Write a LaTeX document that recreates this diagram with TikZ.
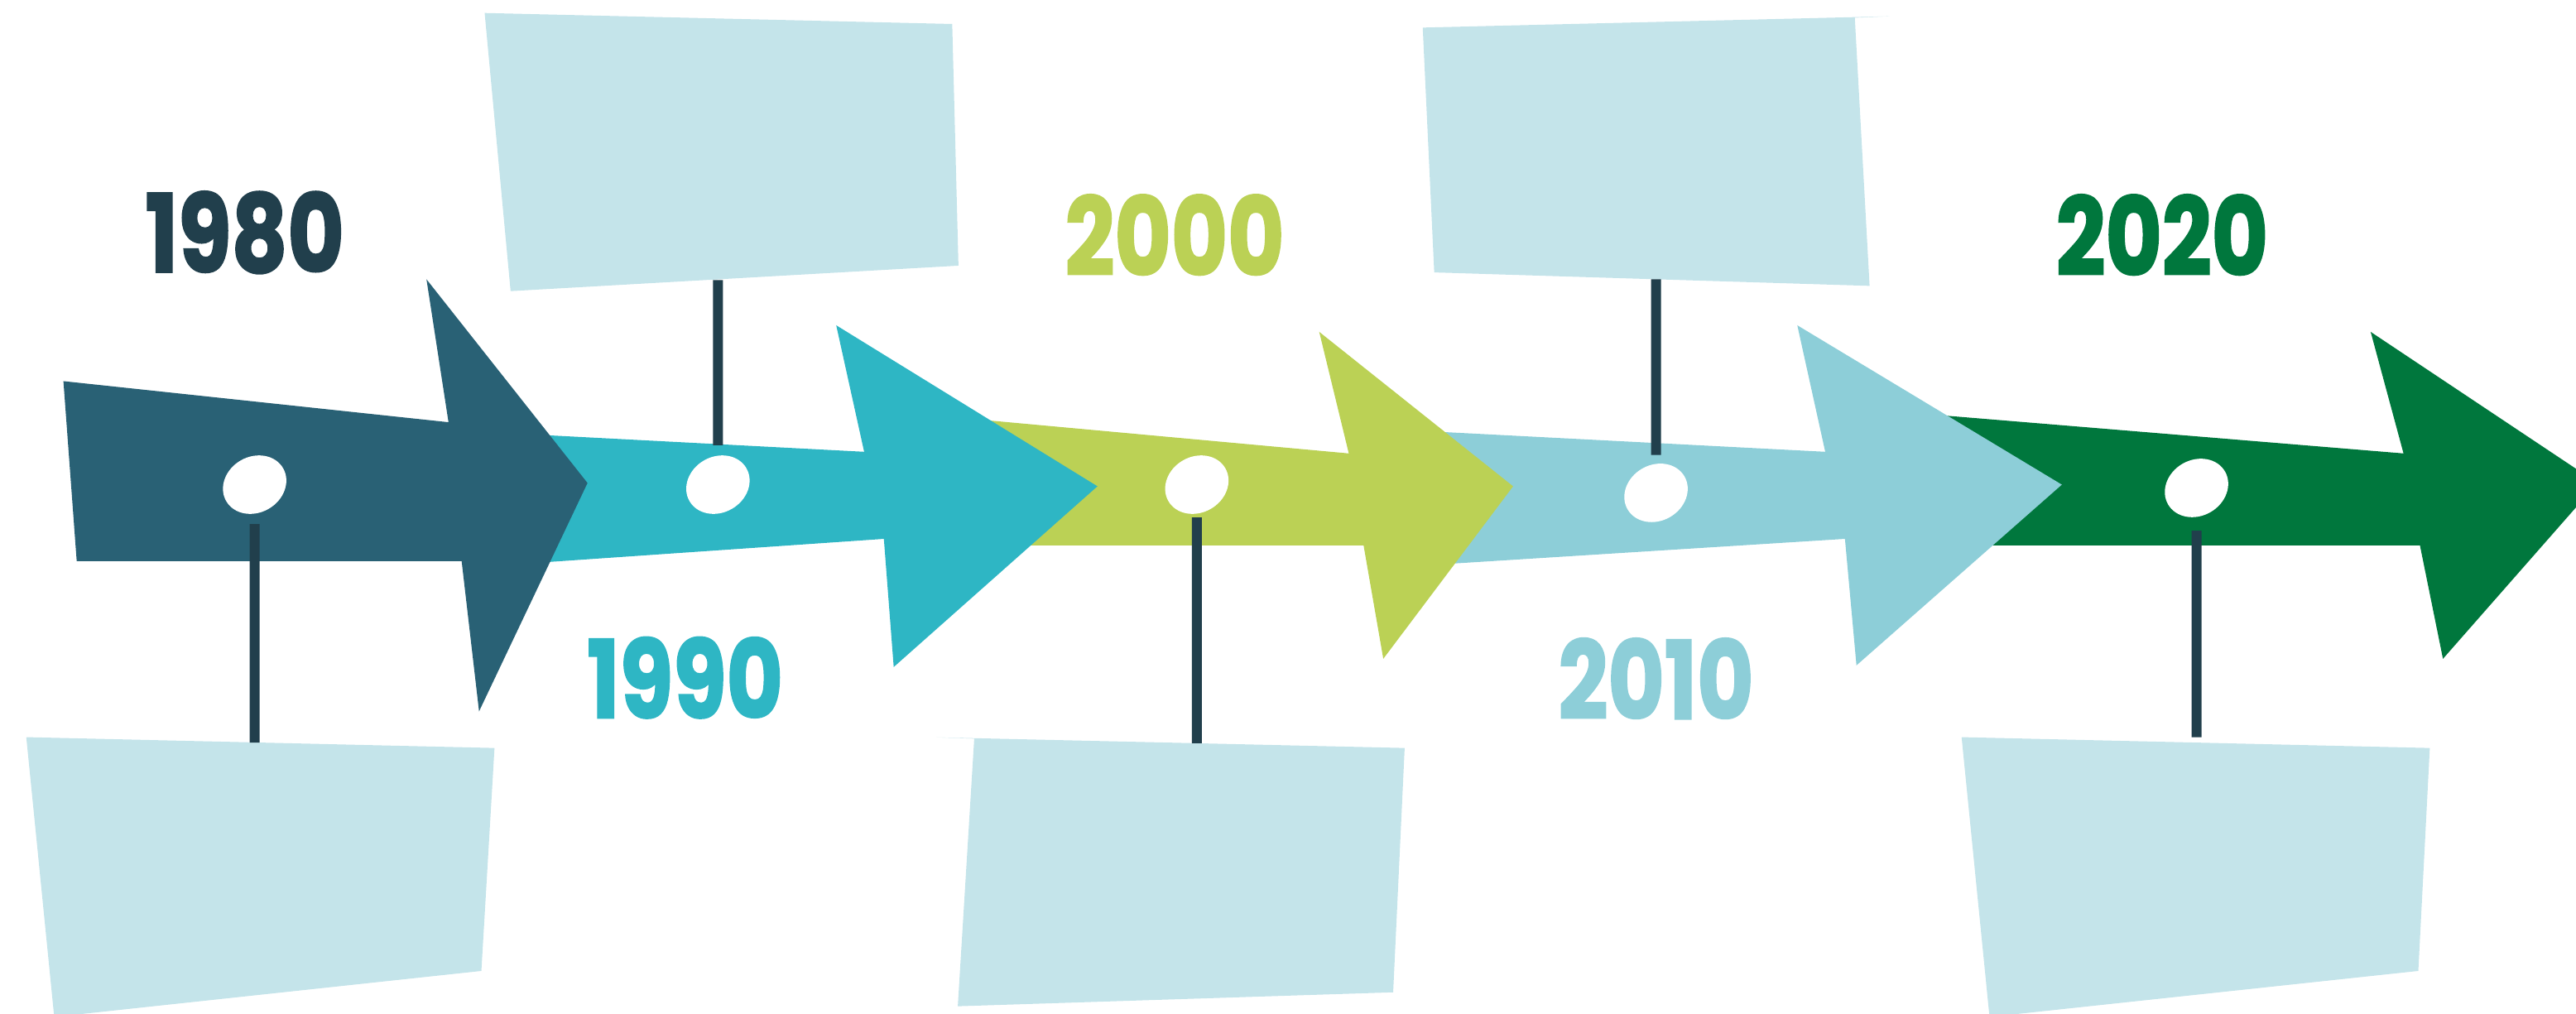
\documentclass[tikz,border=0pt]{standalone}
\usepackage{fontspec}
\newfontfamily\yearfont{Poppins}[FakeStretch=0.8,BoldFeatures={FakeBold=1.6}]
\usetikzlibrary{shapes.geometric}
\definecolor{ink}{HTML}{213F4C}
\definecolor{petrolC}{HTML}{296175}
\definecolor{cyanC}{HTML}{2EB6C4}
\definecolor{limeC}{HTML}{BBD155}
\definecolor{skyC}{HTML}{8DCED8}
\definecolor{forestC}{HTML}{00773D}
\definecolor{paleC}{HTML}{C4E4EA}
\tikzset{
  card/.style={fill=paleC},
  dot/.style={ellipse,fill=white,inner sep=0pt,minimum width=20pt,minimum height=17pt,rotate=30},
  stem/.style={draw=ink,line width=3pt},
  year/.style={font=\yearfont\bfseries\fontsize{33}{33}\selectfont,inner sep=0pt}}

\begin{document}
\begin{tikzpicture}[x=0.5pt,y=-0.5pt]
\useasboundingbox (0,0) rectangle (1568,617);
\fill[forestC] (1160,251) -- (1463,276) -- (1443,202) -- (1581,294) -- (1487,401) -- (1473,332) -- (1160,332) -- cycle;
\fill[skyC] (850,261.5) -- (1111,275) -- (1094,198) -- (1255,295) -- (1130,405) -- (1123,328) -- (850,345.2) -- cycle;
\fill[limeC] (570,253) -- (821,276) -- (803,202) -- (921,296) -- (842,401) -- (830,332) -- (570,332) -- cycle;
\fill[cyanC] (300,263.2) -- (526,275) -- (509,198) -- (668,296) -- (544,406) -- (538,328) -- (300,344.4) -- cycle;
\fill[petrolC] (38.6,232) -- (273,257) -- (259.6,170) -- (357.6,294) -- (291.6,433) -- (281,341.6) -- (46.7,341.6) -- cycle;
\node[dot] (d1980) at (155,295) {};
\node[dot] (d1990) at (437,295) {};
\node[dot] (d2000) at (728.5,295) {};
\node[dot] (d2010) at (1008,300) {};
\node[dot] (d2020) at (1337,297) {};
\fill[card] (295,7.9) -- (579.6,14.6) -- (583.4,161.7) -- (310.8,177.2) -- cycle;
\fill[card] (866,16.8) -- (1150,9.9) -- (1129,10.8) -- (1138,174) -- (873,165.8) -- cycle;
\fill[card] (16,448.7) -- (301,455.3) -- (293,591) -- (33,619) -- cycle;
\fill[card] (570,448.8) -- (855,455.3) -- (848,604) -- (583,612.5) -- (593,449.6) -- cycle;
\fill[card] (1194,448.7) -- (1479,455.3) -- (1472,591) -- (1211,619) -- cycle;
\coordinate (e1980) at (155,452);
\coordinate (e1990) at (437,170.5);
\coordinate (e2000) at (728.5,452.4);
\coordinate (e2010) at (1008,170);
\coordinate (e2020) at (1337,448.7);
\draw[stem,shorten <=3pt] (d1980) -- (e1980);
\draw[stem,shorten >=3pt] (e1990) -- (d1990);
\draw[stem,shorten <=1pt] (d2000) -- (e2000);
\draw[stem,shorten >=2.5pt] (e2010) -- (d2010);
\draw[stem,shorten <=4pt] (d2020) -- (e2020);
\node[year,text=ink] (y1980) at (149,141.5) {1980};
\node[year,text=cyanC] (y1990) at (417,412.5) {1990};
\node[year,text=limeC] (y2000) at (715,143) {2000};
\node[year,text=skyC] (y2010) at (1008,413) {2010};
\node[year,text=forestC] (y2020) at (1316,143) {2020};
\end{tikzpicture}
\end{document}
